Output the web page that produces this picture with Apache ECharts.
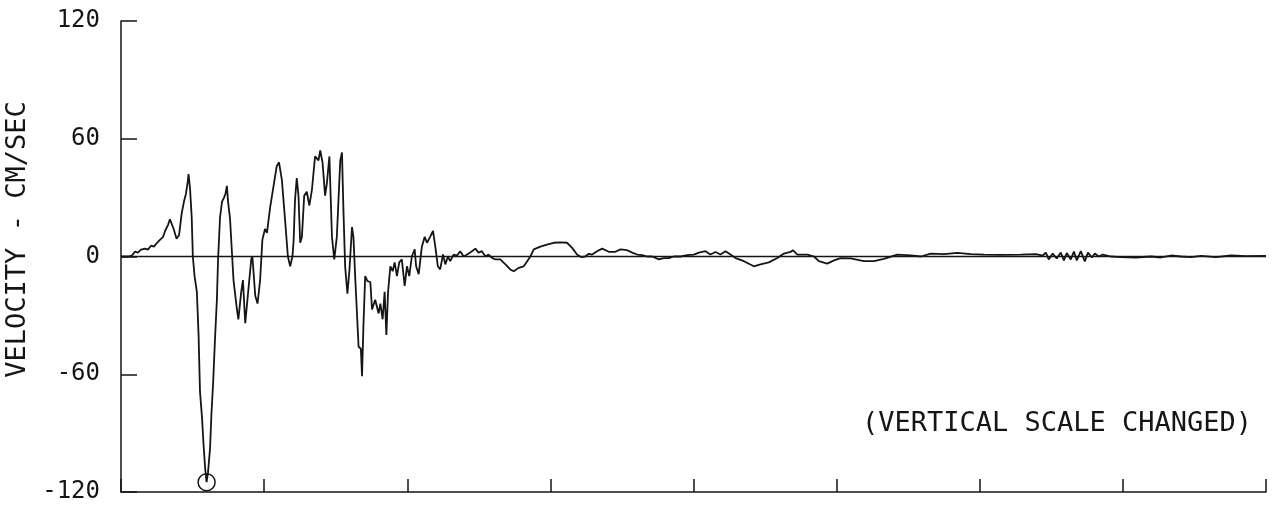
<!DOCTYPE html>
<html>
<head>
<meta charset="utf-8">
<script src="https://cdn.jsdelivr.net/npm/echarts@6/dist/echarts.min.js"></script>
<style>
  html, body { margin: 0; padding: 0; background: #fff; }
  #chart { width: 1276px; height: 508px; }
</style>
</head>
<body>
<div id="chart"></div>
<script>
// Time since start of record (seconds)
const timeSec = [
  0.00, 0.24, 0.38, 0.49, 0.59, 0.70, 0.84, 0.94, 1.05, 1.15, 1.26, 1.36, 1.47, 1.54, 1.64, 1.71, 1.77, 1.84, 1.94, 2.03,
  2.12, 2.20, 2.27, 2.33, 2.36, 2.41, 2.47, 2.51, 2.57, 2.65, 2.71, 2.76, 2.83, 2.88, 2.94, 2.99, 3.04, 3.11, 3.16, 3.22,
  3.29, 3.35, 3.39, 3.46, 3.53, 3.60, 3.65, 3.70, 3.74, 3.81, 3.93, 4.05, 4.10, 4.20, 4.26, 4.34, 4.43, 4.55, 4.59, 4.69,
  4.77, 4.86, 4.94, 5.03, 5.10, 5.21, 5.33, 5.44, 5.52, 5.62, 5.73, 5.83, 5.91, 5.99, 6.03, 6.08, 6.14, 6.20, 6.26, 6.32,
  6.40, 6.49, 6.58, 6.67, 6.78, 6.90, 6.96, 7.04, 7.13, 7.19, 7.28, 7.37, 7.45, 7.54, 7.66, 7.72, 7.77, 7.83, 7.91, 7.98,
  8.07, 8.12, 8.18, 8.30, 8.38, 8.42, 8.47, 8.53, 8.61, 8.71, 8.77, 8.88, 9.00, 9.06, 9.14, 9.21, 9.27, 9.33, 9.41, 9.49,
  9.56, 9.64, 9.72, 9.81, 9.91, 9.99, 10.07, 10.16, 10.26, 10.31, 10.40, 10.51, 10.61, 10.69, 10.80, 10.90, 10.98, 11.07, 11.15, 11.25,
  11.33, 11.42, 11.50, 11.62, 11.74, 11.85, 11.97, 12.09, 12.20, 12.38, 12.49, 12.61, 12.73, 12.84, 12.96, 13.08, 13.25, 13.43, 13.60, 13.72,
  13.89, 14.07, 14.19, 14.30, 14.42, 14.65, 14.88, 15.12, 15.35, 15.58, 15.76, 15.93, 16.07, 16.22, 16.34, 16.46, 16.63, 16.81, 17.04, 17.27,
  17.45, 17.68, 17.86, 18.03, 18.21, 18.38, 18.56, 18.79, 18.96, 19.14, 19.31, 19.55, 19.78, 20.01, 20.19, 20.42, 20.59, 20.77, 20.94, 21.12,
  21.29, 21.47, 21.76, 22.11, 22.34, 22.63, 22.93, 23.16, 23.39, 23.47, 23.63, 23.98, 24.21, 24.38, 24.67, 24.91, 25.14, 25.49, 25.95, 26.30,
  26.65, 27.12, 27.59, 27.94, 28.29, 28.75, 29.22, 29.69, 30.15, 30.73, 31.43, 31.96, 32.20, 32.31, 32.41, 32.55, 32.69, 32.83, 32.94, 33.04,
  33.18, 33.29, 33.39, 33.53, 33.67, 33.78, 33.92, 34.02, 34.16, 34.30, 34.58, 34.93, 35.45, 35.98, 36.33, 36.68, 37.03, 37.38, 37.73, 38.25,
  38.78, 39.30, 40.00
];

// Ground velocity (cm/sec)
const velocity = [
  0, 0, 0.5, 2.5, 2, 3.5, 4, 3.5, 5.5, 5, 7, 8.5, 10, 13, 16, 19, 18, 14, 9, 11,
  22, 28, 32, 38, 42, 35, 20, 0, -10, -18, -40, -69, -82, -95, -108, -115, -110, -98, -80, -64,
  -40, -22, -2, 20, 28, 30, 32, 36, 28, 19, -12, -27, -32, -18, -12, -34, -20, -1.5, 0, -20,
  -24, -12, 8.6, 14, 12, 25, 36, 46, 48, 39, 19, 0, -5, 0, 8, 29, 40, 31, 7, 10,
  31, 33, 26, 34, 51, 49, 54, 48, 31, 37, 51, 10, -1.5, 10, 49, 53, 24, -5, -19, -7,
  15, 10, -10, -46, -47, -61, -35, -10, -12.5, -13, -27, -22, -29, -24, -32, -18, -40, -18, -5, -7.5,
  -3, -10, -3, -1.5, -15, -5, -10, 0, 3.6, -5, -9, 5, 10, 7, 10, 13, 5, -5, -6.6, 1,
  -4, 0, -2.4, 1, 0.5, 2.7, 0, 1, 2, 4, 2, 2.7, 0, 1, -0.7, -1.5, -1.5, -4, -6.6, -7.5,
  -5.8, -5, -2.4, 0, 3.6, 5, 6, 7, 7.2, 7, 4.4, 1, -0.3, 0, 1.4, 1, 2.7, 4, 2.4, 2.4,
  3.6, 3.2, 2, 1, 0.7, 0, 0, -1.5, -0.8, -0.8, 0, 0, 0.7, 1, 2, 2.7, 1, 2.3, 1, 2.7,
  1, -0.8, -2.4, -5, -4, -3, -0.8, 1.5, 2.3, 3.2, 1, 1, 0, -2.4, -3.6, -2, -0.8, -1, -2.4, -2.4,
  -1.2, 1, 0.6, 0, 1.5, 1.2, 1.8, 1.2, 1, 0.8, 1, 1.2, 0.5, 2, -1.5, 1.5, -1, 2, -2, 1.8,
  -1.5, 2.5, -2, 2.7, -2.5, 2, -0.5, 1.5, 0, 1, 0, -0.3, -0.5, 0, -0.5, 0.5, 0, -0.3, 0.3, -0.3,
  0.5, 0.2, 0.3
];

// Axis ranges and tick steps
const timeRange = [0, 40];
const timeStep = 5;
const velocityRange = [-120, 120];
const velocityStep = 60;

const axisTitle = 'VELOCITY - CM/SEC';
const noteText = '(VERTICAL SCALE CHANGED)';

const ink = '#151515';
const plotFont = '"DejaVu Sans Mono", "Liberation Mono", monospace';

const points = timeSec.map((t, i) => [t, velocity[i]]);

const chart = echarts.init(document.getElementById('chart'), null, { renderer: 'canvas' });

chart.setOption({
  animation: false,
  backgroundColor: '#ffffff',
  grid: {
    left: 121, right: 10, top: 21, bottom: 16,
    containLabel: false,
    outerBoundsMode: 'none'
  },
  xAxis: {
    type: 'value',
    min: timeRange[0],
    max: timeRange[1],
    interval: timeStep,
    axisLine: { show: true, onZero: false, lineStyle: { color: ink, width: 1.5 } },
    axisTick: { show: true, inside: true, length: 13, lineStyle: { color: ink, width: 1.5 } },
    axisLabel: { show: false },
    splitLine: { show: false }
  },
  yAxis: {
    type: 'value',
    min: velocityRange[0],
    max: velocityRange[1],
    interval: velocityStep,
    name: axisTitle,
    nameLocation: 'middle',
    nameRotate: 90,
    nameGap: 87,
    nameTextStyle: { fontFamily: plotFont, fontSize: 27, color: ink, padding: [0, 0, 0, 34] },
    axisLine: { show: true, onZero: false, lineStyle: { color: ink, width: 1.5 } },
    axisTick: { show: true, inside: true, length: 16, lineStyle: { color: ink, width: 1.5 } },
    axisLabel: { margin: 21, fontFamily: plotFont, fontSize: 24, color: ink },
    splitLine: { show: false }
  },
  graphic: [{
    type: 'text',
    left: 862,
    top: 410,
    style: { text: noteText, font: '27px ' + plotFont, fill: ink }
  }],
  series: [{
    type: 'line',
    data: points,
    showSymbol: false,
    symbol: 'none',
    lineStyle: { color: ink, width: 1.8 },
    z: 3,
    markLine: {
      silent: true,
      symbol: ['none', 'none'],
      label: { show: false },
      lineStyle: { color: ink, width: 1.3, type: 'solid' },
      data: [{ yAxis: 0 }]
    },
    markPoint: {
      silent: true,
      symbol: 'circle',
      symbolSize: 17,
      label: { show: false },
      itemStyle: { color: 'rgba(0,0,0,0)', borderColor: ink, borderWidth: 1.5 },
      data: [{ type: 'min', valueDim: 'y' }]
    }
  }]
});
</script>
</body>
</html>
